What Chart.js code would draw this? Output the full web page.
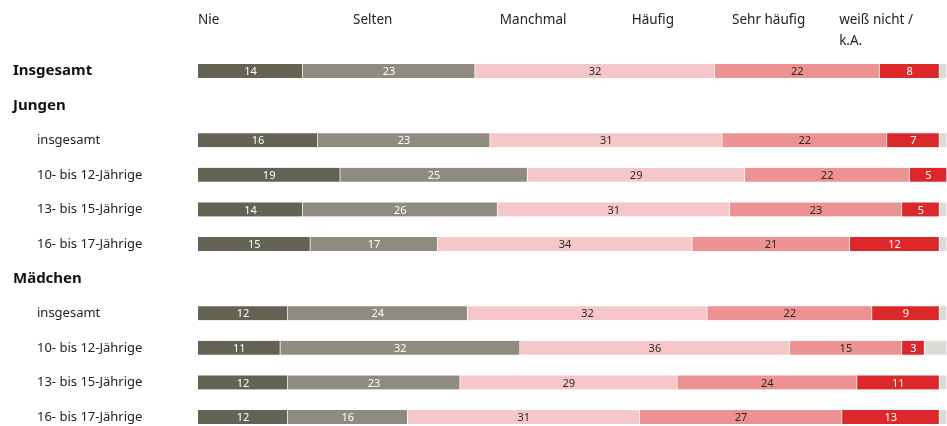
<!DOCTYPE html>
<html lang="de">
<head>
<meta charset="utf-8">
<script src="https://cdn.jsdelivr.net/npm/chart.js@4"></script>
<style>
  html, body { margin: 0; padding: 0; background: #fff; }
  #wrap { width: 947px; height: 426px; position: relative; }
</style>
</head>
<body>
<div id="wrap"><canvas id="haeufigkeitChart"></canvas></div>
<script>
// Zeilen (Gruppenköpfe ohne Balken)
const rowLabels = ['Insgesamt', 'Jungen', 'insgesamt', '10- bis 12-Jährige', '13- bis 15-Jährige', '16- bis 17-Jährige',
                   'Mädchen', 'insgesamt', '10- bis 12-Jährige', '13- bis 15-Jährige', '16- bis 17-Jährige'];
const groupRows = ['Insgesamt', 'Jungen', 'Mädchen'];

// Antwortkategorien
const categories = ['Nie', 'Selten', 'Manchmal', 'Häufig', 'Sehr häufig', 'weiß nicht / k.A.'];

// Werte in Prozent
const nie         = [14, null, 16, 19, 14, 15, null, 12, 11, 12, 12];
const selten      = [23, null, 23, 25, 26, 17, null, 24, 32, 23, 16];
const manchmal    = [32, null, 31, 29, 31, 34, null, 32, 36, 29, 31];
const haeufig     = [22, null, 22, 22, 23, 21, null, 22, 15, 24, 27];
const sehrHaeufig = [8,  null, 7,  5,  5,  12, null, 9,  3,  11, 13];
const weissNicht  = [1,  null, 1,  0,  1,  1,  null, 1,  3,  1,  1];

const seriesValues = [nie, selten, manchmal, haeufig, sehrHaeufig, weissNicht];
const colors = ['#646253', '#8f8c7f', '#f5c7c8', '#ec9292', '#dc282b', '#dcdcd6'];
const labelColors = ['#ffffff', '#ffffff', '#2a2a2a', '#2a2a2a', '#ffffff', null];

// Kopfzeile: Position der Kategorienamen auf der x-Achse
const headerAnchors = [0, 20.7, 40.3, 57.9, 71.3, 85.6];

const FONT = '"Noto Sans", "Open Sans", sans-serif';

const labelPlugin = {
    id: 'labelPlugin',
    afterDatasetsDraw(chart) {
        const ctx = chart.ctx;
        const xScale = chart.scales.x;
        const yScale = chart.scales.y;
        ctx.save();

        // Werte in den Balken
        ctx.font = '11px ' + FONT;
        ctx.textAlign = 'center';
        ctx.textBaseline = 'middle';
        chart.data.datasets.forEach((ds, di) => {
            if (!labelColors[di]) return;
            chart.getDatasetMeta(di).data.forEach((bar, i) => {
                const v = ds.data[i];
                if (v == null || v < 2) return;
                ctx.fillStyle = labelColors[di];
                const cx = (bar.x + bar.base) / 2;
                ctx.fillText(v, cx, bar.y + 1);
            });
        });

        // Zeilenbeschriftungen links
        ctx.textAlign = 'left';
        rowLabels.forEach((lbl, i) => {
            const y = yScale.getPixelForValue(i);
            if (groupRows.includes(lbl)) {
                ctx.font = 'bold 15px ' + FONT;
                ctx.fillStyle = '#111111';
                ctx.fillText(lbl, 13, y);
            } else {
                ctx.font = '13px ' + FONT;
                ctx.fillStyle = '#222222';
                ctx.fillText(lbl, 37, y);
            }
        });

        // Kopfzeile mit Kategorien
        ctx.font = '13.5px ' + FONT;
        ctx.fillStyle = '#222222';
        categories.forEach((c, i) => {
            const x = xScale.getPixelForValue(headerAnchors[i]);
            const parts = c === 'weiß nicht / k.A.' ? ['weiß nicht /', 'k.A.'] : [c];
            parts.forEach((p, j) => ctx.fillText(p, x, 20 + j * 21));
        });
        ctx.restore();
    }
};

const ChartH = document.getElementById('haeufigkeitChart');
const haeufigkeitChart = new Chart(ChartH, {
    type: 'bar',
    data: {
        labels: rowLabels,
        datasets: categories.map((c, i) => ({
            label: c,
            data: seriesValues[i],
            backgroundColor: colors[i],
            borderColor: 'rgba(255,255,255,0.35)',
            borderWidth: { left: 0, right: 1, top: 0, bottom: 0 },
            borderSkipped: false,
            barThickness: 14,
            clip: false
        }))
    },
    options: {
        indexAxis: 'y',
        responsive: true,
        maintainAspectRatio: false,
        animation: false,
        layout: {
            padding: { left: 198, right: -3, top: 71, bottom: 9 }
        },
        scales: {
            x: {
                stacked: true,
                min: 0,
                max: 100,
                display: false
            },
            y: {
                stacked: true,
                offset: false,
                display: false
            }
        },
        plugins: {
            legend: { display: false },
            tooltip: { enabled: false },
            title: { display: false }
        }
    },
    plugins: [labelPlugin]
});
</script>
</body>
</html>
